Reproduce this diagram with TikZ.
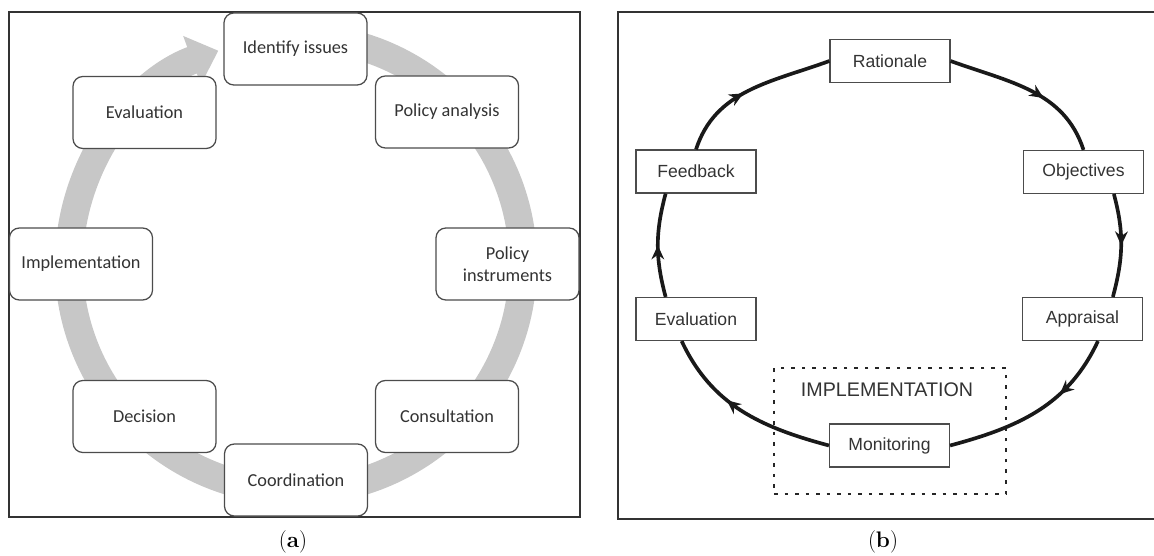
\documentclass[tikz,border=0pt]{standalone}
\usepackage{fontspec}
\newfontfamily\calfont{Carlito}
\newfontfamily\arialfont{Liberation Sans}
\usetikzlibrary{arrows.meta,decorations.markings}

\tikzset{
	stage/.style={draw=black!70, fill=white, line width=0.9pt, rounded corners=7pt,
		minimum width=3.575cm, minimum height=1.8cm, align=center, text=black!80,
		font=\calfont\fontsize{13}{15.5}\selectfont},
	phase/.style={draw=black!70, fill=white, line width=0.8pt,
		minimum width=3cm, minimum height=1.075cm, text=black!80,
		font=\arialfont\fontsize{12.5}{14}\selectfont},
	cyc/.style={line width=2.6pt, black!90},
	midarrow/.style={postaction={decorate}, decoration={markings,
		mark=at position #1 with {\arrow{Stealth[length=10pt,width=9pt]}}}},
	panel/.style={draw=black!80, line width=1pt},
	dotbox/.style={draw=black!85, line width=1.8pt, dash pattern=on 2.5pt off 5pt},
	caption/.style={font=\fontsize{16}{18}\selectfont}
}

\begin{document}
\begin{tikzpicture}[x=0.025cm, y=0.025cm]
	\useasboundingbox (0,0) rectangle (1154,-556);
	\draw [panel] (9,-12) rectangle (580,-517);
	\draw [panel] (618,-12) rectangle (1170,-519);
	\draw [black!22, line width=0.7cm, -{Triangle[length=0.7cm,width=1.25cm]}] (296,-264) ++(85:227) arc [start angle=85, end angle=-250, radius=5.675cm];
	\node [stage] (iden) at (295.5,-49) {Identify issues};
	\node [stage] (pana) at (447,-112) {Policy analysis};
	\node [stage] (pins) at (507.5,-264) {Policy\\instruments};
	\node [stage] (cons) at (447,-416.5) {Consultation};
	\node [stage] (coor) at (296,-480) {Coordination};
	\node [stage] (deci) at (144.5,-416.5) {Decision};
	\node [stage] (impl) at (81,-264) {Implementation};
	\node [stage] (eval) at (144.5,-112.5) {Evaluation};
	\node [caption] (capa) at (293,-542) {(\textbf{a})};
	\node [dotbox, minimum width=5.8cm, minimum height=3.15cm] (zone) at (890,-431) {};
	\node [font=\arialfont\fontsize{14}{16}\selectfont, text=black!80] (zonetext) at (887,-390) {IMPLEMENTATION};
	\node [phase] (rat) at (890,-61) {Rationale};
	\node [phase] (obj) at (1083.5,-172) {Objectives};
	\node [phase] (app) at (1082.5,-319) {Appraisal};
	\node [phase] (mon) at (889.5,-445.5) {Monitoring};
	\node [phase] (ev) at (696,-319) {Evaluation};
	\node [phase] (fb) at (696,-171.5) {Feedback};
	\draw [cyc, midarrow=0.45] (fb.north) to [out=72, in=200] (rat.west);
	\draw [cyc, midarrow=0.6] (rat.east) to [out=-20, in=108] (obj.north);
	\draw [cyc, midarrow=0.5] (obj.-36) to [out=-75, in=75] (app.36);
	\draw [cyc, midarrow=0.35] (app.-55) to [out=-115, in=15] (mon.east);
	\draw [cyc, midarrow=0.6] (mon.west) to [out=165, in=-65] (ev.237);
	\draw [cyc, midarrow=0.5] (ev.144) to [out=105, in=-105] (fb.216);
	\node [caption] (capb) at (883,-542) {(\textbf{b})};
\end{tikzpicture}
\end{document}
